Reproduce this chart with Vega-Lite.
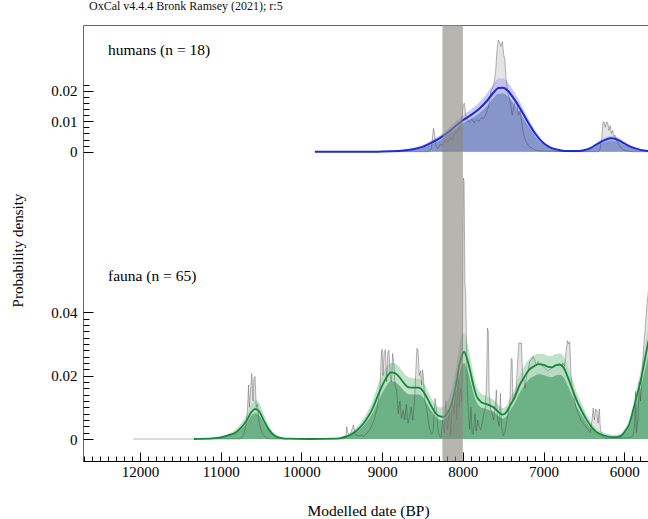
{
  "$schema": "https://vega.github.io/schema/vega-lite/v6.json",
  "autosize": {"type": "none"},
  "padding": {"left": 83, "top": 25, "right": 0, "bottom": 58},
  "width": 570,
  "height": 436,
  "title": {"text": "OxCal v4.4.4 Bronk Ramsey (2021); r:5", "anchor": "start", "frame": "group", "dx": 6, "offset": 3, "baseline": "alphabetic", "font": "Liberation Serif", "fontSize": 12, "fontWeight": "normal", "color": "#111"},
  "config": {
    "view": {"stroke": "#666", "strokeWidth": 1},
    "font": "Liberation Serif",
    "axis": {"grid": false, "labelFont": "Liberation Serif", "titleFont": "Liberation Serif", "labelColor": "black", "titleColor": "black", "tickColor": "black", "tickWidth": 1, "titleFontWeight": "normal", "labelFontSize": 15, "labelOverlap": false, "labelFlush": false},
    "axisY": {"domain": false, "labelPadding": 16}
  },
  "encoding": {
    "x": {"field": "y", "type": "quantitative", "scale": {"domain": [12707, 5644], "nice": false, "zero": false},
      "axis": {"values": [5700, 5800, 5900, 6000, 6100, 6200, 6300, 6400, 6500, 6600, 6700, 6800, 6900, 7000, 7100, 7200, 7300, 7400, 7500, 7600, 7700, 7800, 7900, 8000, 8100, 8200, 8300, 8400, 8500, 8600, 8700, 8800, 8900, 9000, 9100, 9200, 9300, 9400, 9500, 9600, 9700, 9800, 9900, 10000, 10100, 10200, 10300, 10400, 10500, 10600, 10700, 10800, 10900, 11000, 11100, 11200, 11300, 11400, 11500, 11600, 11700, 11800, 11900, 12000, 12100, 12200, 12300, 12400, 12500, 12600, 12700],
        "format": "d", "domainColor": "black", "domainWidth": 1, "labelOverlap": false, "tickCount": 200,
        "tickSize": {"condition": {"test": "datum.value % 1000 === 0", "value": -9}, "value": -5},
        "labelExpr": "datum.value % 1000 === 0 ? datum.label : ''",
        "labelPadding": 12,
        "title": "Modelled date (BP)", "titleFontSize": 15.5, "titleY": 49, "titleBaseline": "middle"}}
  },
  "datasets": {
    "hk": [
      {"y": 9833, "m": 0, "lo": 0, "hi": 0},
      {"y": 9400, "m": 0, "lo": 0, "hi": 0},
      {"y": 9000, "m": 0.00003, "lo": 0.00002, "hi": 0.00005},
      {"y": 8800, "m": 0.0002, "lo": 0.0001, "hi": 0.0003},
      {"y": 8700, "m": 0.0005, "lo": 0.0003, "hi": 0.0007},
      {"y": 8600, "m": 0.0009, "lo": 0.0006, "hi": 0.0013},
      {"y": 8500, "m": 0.0016, "lo": 0.0012, "hi": 0.0021},
      {"y": 8400, "m": 0.0028, "lo": 0.0023, "hi": 0.0035},
      {"y": 8300, "m": 0.0042, "lo": 0.0035, "hi": 0.0051},
      {"y": 8200, "m": 0.006, "lo": 0.0052, "hi": 0.0071},
      {"y": 8100, "m": 0.0082, "lo": 0.0073, "hi": 0.0096},
      {"y": 8000, "m": 0.0103, "lo": 0.0093, "hi": 0.0119},
      {"y": 7900, "m": 0.012, "lo": 0.0108, "hi": 0.0138},
      {"y": 7800, "m": 0.014, "lo": 0.0126, "hi": 0.0161},
      {"y": 7700, "m": 0.0167, "lo": 0.0151, "hi": 0.0192},
      {"y": 7620, "m": 0.0194, "lo": 0.0176, "hi": 0.0222},
      {"y": 7560, "m": 0.0209, "lo": 0.019, "hi": 0.024},
      {"y": 7500, "m": 0.021, "lo": 0.0191, "hi": 0.024},
      {"y": 7440, "m": 0.0199, "lo": 0.0181, "hi": 0.0226},
      {"y": 7370, "m": 0.0175, "lo": 0.0158, "hi": 0.0198},
      {"y": 7300, "m": 0.0146, "lo": 0.0131, "hi": 0.0166},
      {"y": 7200, "m": 0.01, "lo": 0.0088, "hi": 0.0115},
      {"y": 7100, "m": 0.0058, "lo": 0.005, "hi": 0.0068},
      {"y": 7000, "m": 0.0028, "lo": 0.0023, "hi": 0.0034},
      {"y": 6900, "m": 0.0012, "lo": 0.0009, "hi": 0.0016},
      {"y": 6800, "m": 0.0005, "lo": 0.0003, "hi": 0.0008},
      {"y": 6700, "m": 0.0002, "lo": 0.0001, "hi": 0.0004},
      {"y": 6600, "m": 0.0002, "lo": 0.0001, "hi": 0.0004},
      {"y": 6500, "m": 0.0005, "lo": 0.0003, "hi": 0.0007},
      {"y": 6420, "m": 0.0012, "lo": 0.0009, "hi": 0.0015},
      {"y": 6340, "m": 0.0024, "lo": 0.0019, "hi": 0.003},
      {"y": 6250, "m": 0.0037, "lo": 0.0031, "hi": 0.0045},
      {"y": 6170, "m": 0.0044, "lo": 0.0037, "hi": 0.0052},
      {"y": 6090, "m": 0.004, "lo": 0.0034, "hi": 0.0048},
      {"y": 6000, "m": 0.0027, "lo": 0.0022, "hi": 0.0033},
      {"y": 5900, "m": 0.0014, "lo": 0.0011, "hi": 0.0018},
      {"y": 5800, "m": 0.0006, "lo": 0.0004, "hi": 0.0008},
      {"y": 5700, "m": 0.0002, "lo": 0.0001, "hi": 0.0003}
    ],
    "hs": [
      {"y": 9840, "p": 0}, {"y": 8420, "p": 0}, {"y": 8390, "p": 0.001}, {"y": 8375, "p": 0.005}, {"y": 8364, "p": 0.0077}, {"y": 8350, "p": 0.006}, {"y": 8335, "p": 0.002}, {"y": 8310, "p": 0.001}, {"y": 8280, "p": 0.0025}, {"y": 8250, "p": 0.002}, {"y": 8220, "p": 0.004}, {"y": 8190, "p": 0.003}, {"y": 8160, "p": 0.0045}, {"y": 8130, "p": 0.004}, {"y": 8100, "p": 0.006}, {"y": 8060, "p": 0.007}, {"y": 8030, "p": 0.0085}, {"y": 8010, "p": 0.012}, {"y": 7995, "p": 0.0155}, {"y": 7980, "p": 0.0159}, {"y": 7965, "p": 0.012}, {"y": 7945, "p": 0.0105}, {"y": 7920, "p": 0.0098}, {"y": 7890, "p": 0.0108}, {"y": 7860, "p": 0.0095}, {"y": 7830, "p": 0.0105}, {"y": 7800, "p": 0.01}, {"y": 7770, "p": 0.0112}, {"y": 7740, "p": 0.0108}, {"y": 7710, "p": 0.0125}, {"y": 7680, "p": 0.015}, {"y": 7650, "p": 0.02}, {"y": 7620, "p": 0.0215}, {"y": 7595, "p": 0.026}, {"y": 7575, "p": 0.034}, {"y": 7560, "p": 0.0366}, {"y": 7545, "p": 0.036}, {"y": 7530, "p": 0.0345}, {"y": 7510, "p": 0.036}, {"y": 7495, "p": 0.032}, {"y": 7480, "p": 0.03}, {"y": 7465, "p": 0.024}, {"y": 7450, "p": 0.021}, {"y": 7430, "p": 0.018}, {"y": 7410, "p": 0.016}, {"y": 7390, "p": 0.012}, {"y": 7370, "p": 0.0145}, {"y": 7350, "p": 0.0165}, {"y": 7330, "p": 0.016}, {"y": 7310, "p": 0.012}, {"y": 7290, "p": 0.0135}, {"y": 7270, "p": 0.0095}, {"y": 7250, "p": 0.006}, {"y": 7230, "p": 0.004}, {"y": 7200, "p": 0.0025}, {"y": 7170, "p": 0.0015}, {"y": 7130, "p": 0.001}, {"y": 7100, "p": 0.0005}, {"y": 7050, "p": 0.0003}, {"y": 7000, "p": 0.0002}, {"y": 6600, "p": 0}, {"y": 6320, "p": 0}, {"y": 6300, "p": 0.001}, {"y": 6280, "p": 0.004}, {"y": 6265, "p": 0.0095}, {"y": 6250, "p": 0.0098}, {"y": 6235, "p": 0.008}, {"y": 6220, "p": 0.0097}, {"y": 6205, "p": 0.0095}, {"y": 6190, "p": 0.007}, {"y": 6175, "p": 0.0085}, {"y": 6160, "p": 0.006}, {"y": 6145, "p": 0.007}, {"y": 6130, "p": 0.005}, {"y": 6115, "p": 0.0055}, {"y": 6100, "p": 0.004}, {"y": 6080, "p": 0.003}, {"y": 6050, "p": 0.0015}, {"y": 6020, "p": 0.0008}, {"y": 5980, "p": 0.0003}, {"y": 5900, "p": 0}, {"y": 5700, "p": 0}
    ],
    "fk": [
      {"y": 11333, "m": 0, "lo": 0, "hi": 0},
      {"y": 11100, "m": 0.0002, "lo": 0.0001, "hi": 0.0004},
      {"y": 11000, "m": 0.0005, "lo": 0.0004, "hi": 0.0008},
      {"y": 10900, "m": 0.0012, "lo": 0.001, "hi": 0.0017},
      {"y": 10820, "m": 0.002, "lo": 0.0017, "hi": 0.0029},
      {"y": 10750, "m": 0.0035, "lo": 0.003, "hi": 0.0048},
      {"y": 10680, "m": 0.0058, "lo": 0.005, "hi": 0.0076},
      {"y": 10620, "m": 0.0085, "lo": 0.0073, "hi": 0.011},
      {"y": 10570, "m": 0.0095, "lo": 0.0082, "hi": 0.0125},
      {"y": 10520, "m": 0.0085, "lo": 0.0073, "hi": 0.0112},
      {"y": 10460, "m": 0.0055, "lo": 0.0047, "hi": 0.0073},
      {"y": 10400, "m": 0.0028, "lo": 0.0024, "hi": 0.004},
      {"y": 10330, "m": 0.001, "lo": 0.0008, "hi": 0.0016},
      {"y": 10250, "m": 0.0003, "lo": 0.0002, "hi": 0.0006},
      {"y": 10150, "m": 0.0001, "lo": 0.0001, "hi": 0.0002},
      {"y": 9900, "m": 0, "lo": 0, "hi": 0.0001},
      {"y": 9600, "m": 0.0001, "lo": 0.0001, "hi": 0.0002},
      {"y": 9520, "m": 0.0003, "lo": 0.0002, "hi": 0.0005},
      {"y": 9440, "m": 0.0008, "lo": 0.0006, "hi": 0.0012},
      {"y": 9360, "m": 0.0018, "lo": 0.0015, "hi": 0.0026},
      {"y": 9280, "m": 0.0035, "lo": 0.003, "hi": 0.0047},
      {"y": 9200, "m": 0.006, "lo": 0.0051, "hi": 0.0078},
      {"y": 9120, "m": 0.0095, "lo": 0.0081, "hi": 0.012},
      {"y": 9040, "m": 0.0145, "lo": 0.0124, "hi": 0.0178},
      {"y": 8960, "m": 0.0188, "lo": 0.0162, "hi": 0.0222},
      {"y": 8890, "m": 0.021, "lo": 0.0182, "hi": 0.024},
      {"y": 8840, "m": 0.0208, "lo": 0.018, "hi": 0.0238},
      {"y": 8780, "m": 0.0193, "lo": 0.0167, "hi": 0.0225},
      {"y": 8720, "m": 0.0173, "lo": 0.015, "hi": 0.0205},
      {"y": 8670, "m": 0.0163, "lo": 0.0141, "hi": 0.0195},
      {"y": 8610, "m": 0.0162, "lo": 0.014, "hi": 0.0192},
      {"y": 8550, "m": 0.0162, "lo": 0.014, "hi": 0.019},
      {"y": 8490, "m": 0.015, "lo": 0.013, "hi": 0.0178},
      {"y": 8440, "m": 0.0128, "lo": 0.011, "hi": 0.0155},
      {"y": 8400, "m": 0.0108, "lo": 0.0093, "hi": 0.0135},
      {"y": 8340, "m": 0.0082, "lo": 0.007, "hi": 0.0108},
      {"y": 8290, "m": 0.0072, "lo": 0.0061, "hi": 0.01},
      {"y": 8240, "m": 0.007, "lo": 0.0059, "hi": 0.0102},
      {"y": 8190, "m": 0.0082, "lo": 0.007, "hi": 0.0118},
      {"y": 8140, "m": 0.0112, "lo": 0.0096, "hi": 0.0155},
      {"y": 8090, "m": 0.0165, "lo": 0.0142, "hi": 0.0215},
      {"y": 8050, "m": 0.0225, "lo": 0.0195, "hi": 0.0285},
      {"y": 8010, "m": 0.0265, "lo": 0.023, "hi": 0.033},
      {"y": 7985, "m": 0.0275, "lo": 0.024, "hi": 0.0335},
      {"y": 7950, "m": 0.0255, "lo": 0.0222, "hi": 0.031},
      {"y": 7910, "m": 0.0215, "lo": 0.0187, "hi": 0.0262},
      {"y": 7870, "m": 0.017, "lo": 0.0147, "hi": 0.0208},
      {"y": 7830, "m": 0.0135, "lo": 0.0116, "hi": 0.0166},
      {"y": 7780, "m": 0.0118, "lo": 0.0101, "hi": 0.0145},
      {"y": 7730, "m": 0.0112, "lo": 0.0096, "hi": 0.0138},
      {"y": 7670, "m": 0.0106, "lo": 0.0091, "hi": 0.013},
      {"y": 7620, "m": 0.01, "lo": 0.0086, "hi": 0.0124},
      {"y": 7570, "m": 0.0088, "lo": 0.0075, "hi": 0.011},
      {"y": 7510, "m": 0.0077, "lo": 0.0065, "hi": 0.0098},
      {"y": 7460, "m": 0.0085, "lo": 0.0072, "hi": 0.0106},
      {"y": 7410, "m": 0.0108, "lo": 0.0092, "hi": 0.0132},
      {"y": 7360, "m": 0.013, "lo": 0.0111, "hi": 0.0156},
      {"y": 7300, "m": 0.0168, "lo": 0.0144, "hi": 0.0198},
      {"y": 7240, "m": 0.0195, "lo": 0.0168, "hi": 0.0228},
      {"y": 7180, "m": 0.0218, "lo": 0.0188, "hi": 0.0252},
      {"y": 7120, "m": 0.0229, "lo": 0.0198, "hi": 0.0264},
      {"y": 7060, "m": 0.0236, "lo": 0.0204, "hi": 0.027},
      {"y": 7000, "m": 0.0234, "lo": 0.0202, "hi": 0.0268},
      {"y": 6950, "m": 0.0228, "lo": 0.0197, "hi": 0.0263},
      {"y": 6900, "m": 0.0226, "lo": 0.0195, "hi": 0.0262},
      {"y": 6850, "m": 0.0232, "lo": 0.02, "hi": 0.0268},
      {"y": 6800, "m": 0.0235, "lo": 0.0203, "hi": 0.027},
      {"y": 6750, "m": 0.0225, "lo": 0.0194, "hi": 0.026},
      {"y": 6700, "m": 0.0195, "lo": 0.0168, "hi": 0.0228},
      {"y": 6640, "m": 0.0155, "lo": 0.0133, "hi": 0.0185},
      {"y": 6590, "m": 0.0122, "lo": 0.0104, "hi": 0.0148},
      {"y": 6530, "m": 0.009, "lo": 0.0077, "hi": 0.0112},
      {"y": 6460, "m": 0.0058, "lo": 0.0049, "hi": 0.0075},
      {"y": 6390, "m": 0.0033, "lo": 0.0028, "hi": 0.0046},
      {"y": 6320, "m": 0.0018, "lo": 0.0015, "hi": 0.0028},
      {"y": 6250, "m": 0.0011, "lo": 0.0009, "hi": 0.0019},
      {"y": 6180, "m": 0.0007, "lo": 0.0005, "hi": 0.0014},
      {"y": 6100, "m": 0.0006, "lo": 0.0004, "hi": 0.0013},
      {"y": 6040, "m": 0.001, "lo": 0.0008, "hi": 0.0018},
      {"y": 5990, "m": 0.0025, "lo": 0.0021, "hi": 0.0035},
      {"y": 5940, "m": 0.0045, "lo": 0.0038, "hi": 0.006},
      {"y": 5890, "m": 0.009, "lo": 0.0077, "hi": 0.011},
      {"y": 5840, "m": 0.014, "lo": 0.012, "hi": 0.0168},
      {"y": 5800, "m": 0.018, "lo": 0.0155, "hi": 0.0212},
      {"y": 5760, "m": 0.023, "lo": 0.0198, "hi": 0.0268},
      {"y": 5730, "m": 0.027, "lo": 0.0233, "hi": 0.0312},
      {"y": 5700, "m": 0.031, "lo": 0.0268, "hi": 0.0355}
    ],
    "fs": [
      {"y": 12083, "p": 0}, {"y": 10760, "p": 0}, {"y": 10720, "p": 0.001}, {"y": 10690, "p": 0.004}, {"y": 10670, "p": 0.009}, {"y": 10655, "p": 0.017}, {"y": 10645, "p": 0.01}, {"y": 10630, "p": 0.016}, {"y": 10615, "p": 0.0207}, {"y": 10600, "p": 0.012}, {"y": 10590, "p": 0.019}, {"y": 10575, "p": 0.0197}, {"y": 10560, "p": 0.01}, {"y": 10545, "p": 0.011}, {"y": 10530, "p": 0.0065}, {"y": 10510, "p": 0.0035}, {"y": 10480, "p": 0.0015}, {"y": 10440, "p": 0.0005}, {"y": 10400, "p": 0},
      {"y": 9480, "p": 0}, {"y": 9450, "p": 0.0005}, {"y": 9440, "p": 0.0039}, {"y": 9425, "p": 0.002}, {"y": 9400, "p": 0.0012}, {"y": 9375, "p": 0.003}, {"y": 9355, "p": 0.0045}, {"y": 9335, "p": 0.0015}, {"y": 9300, "p": 0.001}, {"y": 9260, "p": 0.0012}, {"y": 9230, "p": 0.0008}, {"y": 9200, "p": 0.0015}, {"y": 9150, "p": 0.003}, {"y": 9100, "p": 0.006}, {"y": 9060, "p": 0.01}, {"y": 9030, "p": 0.015}, {"y": 9010, "p": 0.027}, {"y": 9000, "p": 0.0283}, {"y": 8990, "p": 0.02}, {"y": 8975, "p": 0.0275}, {"y": 8960, "p": 0.0282}, {"y": 8945, "p": 0.018}, {"y": 8930, "p": 0.0275}, {"y": 8915, "p": 0.028}, {"y": 8900, "p": 0.02}, {"y": 8885, "p": 0.018}, {"y": 8870, "p": 0.027}, {"y": 8855, "p": 0.024}, {"y": 8840, "p": 0.017}, {"y": 8820, "p": 0.015}, {"y": 8800, "p": 0.008}, {"y": 8780, "p": 0.012}, {"y": 8760, "p": 0.0065}, {"y": 8740, "p": 0.009}, {"y": 8720, "p": 0.006}, {"y": 8700, "p": 0.011}, {"y": 8680, "p": 0.005}, {"y": 8660, "p": 0.007}, {"y": 8640, "p": 0.01}, {"y": 8620, "p": 0.006}, {"y": 8600, "p": 0.012}, {"y": 8585, "p": 0.02}, {"y": 8570, "p": 0.0286}, {"y": 8555, "p": 0.028}, {"y": 8540, "p": 0.02}, {"y": 8525, "p": 0.0215}, {"y": 8510, "p": 0.017}, {"y": 8500, "p": 0.0218}, {"y": 8490, "p": 0.02}, {"y": 8470, "p": 0.012}, {"y": 8450, "p": 0.01}, {"y": 8430, "p": 0.006}, {"y": 8410, "p": 0.003}, {"y": 8390, "p": 0.0015}, {"y": 8370, "p": 0.002}, {"y": 8345, "p": 0.0128}, {"y": 8330, "p": 0.01}, {"y": 8310, "p": 0.003}, {"y": 8290, "p": 0.001}, {"y": 8270, "p": 0.0005}, {"y": 8250, "p": 0.006}, {"y": 8230, "p": 0.002}, {"y": 8210, "p": 0.012}, {"y": 8190, "p": 0.003}, {"y": 8170, "p": 0.009}, {"y": 8150, "p": 0.001}, {"y": 8130, "p": 0.012}, {"y": 8110, "p": 0.008}, {"y": 8090, "p": 0.015}, {"y": 8075, "p": 0.006}, {"y": 8060, "p": 0.021}, {"y": 8045, "p": 0.01}, {"y": 8030, "p": 0.016}, {"y": 8015, "p": 0.012}, {"y": 8005, "p": 0.03}, {"y": 7995, "p": 0.0823}, {"y": 7985, "p": 0.0815}, {"y": 7975, "p": 0.049}, {"y": 7965, "p": 0.046}, {"y": 7955, "p": 0.03}, {"y": 7945, "p": 0.015}, {"y": 7930, "p": 0.008}, {"y": 7915, "p": 0.003}, {"y": 7900, "p": 0.01}, {"y": 7885, "p": 0.002}, {"y": 7870, "p": 0.0015}, {"y": 7850, "p": 0.008}, {"y": 7835, "p": 0.0025}, {"y": 7815, "p": 0.006}, {"y": 7800, "p": 0.004}, {"y": 7780, "p": 0.003}, {"y": 7760, "p": 0.005}, {"y": 7740, "p": 0.008}, {"y": 7720, "p": 0.01}, {"y": 7705, "p": 0.02}, {"y": 7695, "p": 0.035}, {"y": 7685, "p": 0.034}, {"y": 7675, "p": 0.015}, {"y": 7660, "p": 0.01}, {"y": 7640, "p": 0.008}, {"y": 7620, "p": 0.006}, {"y": 7600, "p": 0.01}, {"y": 7585, "p": 0.0155}, {"y": 7570, "p": 0.006}, {"y": 7550, "p": 0.004}, {"y": 7535, "p": 0.0144}, {"y": 7520, "p": 0.004}, {"y": 7500, "p": 0.001}, {"y": 7480, "p": 0.002}, {"y": 7460, "p": 0.005}, {"y": 7440, "p": 0.008}, {"y": 7420, "p": 0.01}, {"y": 7400, "p": 0.0254}, {"y": 7390, "p": 0.025}, {"y": 7380, "p": 0.012}, {"y": 7360, "p": 0.014}, {"y": 7340, "p": 0.015}, {"y": 7320, "p": 0.025}, {"y": 7305, "p": 0.0304}, {"y": 7290, "p": 0.03}, {"y": 7275, "p": 0.0304}, {"y": 7260, "p": 0.02}, {"y": 7245, "p": 0.019}, {"y": 7230, "p": 0.016}, {"y": 7210, "p": 0.02}, {"y": 7190, "p": 0.022}, {"y": 7170, "p": 0.0245}, {"y": 7150, "p": 0.025}, {"y": 7130, "p": 0.026}, {"y": 7110, "p": 0.025}, {"y": 7090, "p": 0.023}, {"y": 7070, "p": 0.0245}, {"y": 7050, "p": 0.024}, {"y": 7030, "p": 0.0235}, {"y": 7010, "p": 0.023}, {"y": 6990, "p": 0.0225}, {"y": 6970, "p": 0.022}, {"y": 6950, "p": 0.0215}, {"y": 6920, "p": 0.022}, {"y": 6890, "p": 0.0225}, {"y": 6860, "p": 0.023}, {"y": 6830, "p": 0.0235}, {"y": 6800, "p": 0.0235}, {"y": 6780, "p": 0.023}, {"y": 6760, "p": 0.024}, {"y": 6740, "p": 0.023}, {"y": 6720, "p": 0.028}, {"y": 6705, "p": 0.031}, {"y": 6690, "p": 0.03}, {"y": 6675, "p": 0.0307}, {"y": 6660, "p": 0.02}, {"y": 6640, "p": 0.015}, {"y": 6620, "p": 0.013}, {"y": 6600, "p": 0.01}, {"y": 6570, "p": 0.008}, {"y": 6540, "p": 0.006}, {"y": 6510, "p": 0.005}, {"y": 6480, "p": 0.004}, {"y": 6450, "p": 0.003}, {"y": 6420, "p": 0.002}, {"y": 6400, "p": 0.006}, {"y": 6385, "p": 0.0097}, {"y": 6370, "p": 0.006}, {"y": 6355, "p": 0.0095}, {"y": 6340, "p": 0.009}, {"y": 6325, "p": 0.005}, {"y": 6310, "p": 0.0095}, {"y": 6295, "p": 0.003}, {"y": 6270, "p": 0.001}, {"y": 6240, "p": 0.0003}, {"y": 6000, "p": 0.0003}, {"y": 5920, "p": 0.0005}, {"y": 5890, "p": 0.001}, {"y": 5870, "p": 0.005}, {"y": 5860, "p": 0.015}, {"y": 5850, "p": 0.002}, {"y": 5830, "p": 0.006}, {"y": 5815, "p": 0.018}, {"y": 5800, "p": 0.012}, {"y": 5780, "p": 0.02}, {"y": 5760, "p": 0.029}, {"y": 5740, "p": 0.035}, {"y": 5720, "p": 0.042}, {"y": 5700, "p": 0.047}
    ]
  },
  "layer": [
    {
      "layer": [
        {
          "data": {"name": "hs"},
          "mark": {"type": "area", "color": "#e4e4e4", "clip": true},
          "encoding": {
            "y": {"field": "p", "type": "quantitative", "scale": {"domain": [-0.1014, 0.04154], "nice": false, "zero": false},
              "axis": {"orient": "left", "values": [0, 0.002, 0.004, 0.006, 0.008, 0.01, 0.012, 0.014, 0.016, 0.018, 0.02, 0.022], "tickCount": 200, "title": "", "labelOverlap": false,
                "tickSize": {"condition": {"test": "abs(datum.value*100 - round(datum.value*100)) < 0.01", "value": -10}, "value": -6},
                "labelFontSize": {"condition": {"test": "abs(datum.value*100 - round(datum.value*100)) < 0.01", "value": 15}, "value": 0},
                "labelExpr": "abs(datum.value*100 - round(datum.value*100)) < 0.01 ? (datum.value == 0 ? '0' : format(datum.value, '.2f')) : ''"}},
            "y2": {"datum": 0}
          }
        },
        {
          "data": {"name": "hk"},
          "mark": {"type": "area", "color": "#b2b5f2", "opacity": 0.7, "interpolate": "monotone", "clip": true},
          "encoding": {
            "y": {"field": "hi", "type": "quantitative", "scale": {"domain": [-0.1014, 0.04154], "nice": false, "zero": false}},
            "y2": {"datum": 0}
          }
        },
        {
          "data": {"name": "hk"},
          "mark": {"type": "area", "color": "#7b8ec3", "opacity": 0.85, "interpolate": "monotone", "clip": true},
          "encoding": {
            "y": {"field": "lo", "type": "quantitative", "scale": {"domain": [-0.1014, 0.04154], "nice": false, "zero": false}},
            "y2": {"datum": 0}
          }
        },
        {
          "data": {"name": "hs"},
          "mark": {"type": "line", "color": "#333", "strokeWidth": 0.6, "opacity": 0.6, "clip": true},
          "encoding": {
            "y": {"field": "p", "type": "quantitative", "scale": {"domain": [-0.1014, 0.04154], "nice": false, "zero": false}}
          }
        },
        {
          "data": {"name": "hk"},
          "mark": {"type": "line", "color": "#1c2bd3", "strokeWidth": 2, "interpolate": "monotone", "clip": true},
          "encoding": {
            "y": {"field": "m", "type": "quantitative", "scale": {"domain": [-0.1014, 0.04154], "nice": false, "zero": false}}
          }
        },
        {
          "data": {"values": [{"t": "humans (n = 18)", "y": 12397, "p": 0.0333}]},
          "mark": {"type": "text", "align": "left", "baseline": "middle", "font": "Liberation Serif", "fontSize": 15.5, "color": "black"},
          "encoding": {
            "y": {"field": "p", "type": "quantitative", "scale": {"domain": [-0.1014, 0.04154], "nice": false, "zero": false}},
            "text": {"field": "t"}
          }
        }
      ]
    },
    {
      "layer": [
        {
          "data": {"name": "fs"},
          "mark": {"type": "area", "color": "#e4e4e4", "clip": true},
          "encoding": {
            "y": {"field": "p", "type": "quantitative", "scale": {"domain": [-0.00694, 0.1306], "nice": false, "zero": false},
              "axis": {"orient": "left", "values": [0, 0.002, 0.004, 0.006, 0.008, 0.01, 0.012, 0.014, 0.016, 0.018, 0.02, 0.022, 0.024, 0.026, 0.028, 0.03, 0.032, 0.034, 0.036, 0.038, 0.04], "tickCount": 200, "labelOverlap": false,
                "title": "Probability density", "titleFontSize": 15, "titleX": -66, "titleY": 225, "titleAngle": 270, "titleAlign": "center", "titleBaseline": "middle",
                "tickSize": {"condition": {"test": "abs(datum.value*50 - round(datum.value*50)) < 0.01", "value": -10}, "value": -6},
                "labelFontSize": {"condition": {"test": "abs(datum.value*50 - round(datum.value*50)) < 0.01", "value": 15}, "value": 0},
                "labelExpr": "abs(datum.value*50 - round(datum.value*50)) < 0.01 ? (datum.value == 0 ? '0' : format(datum.value, '.2f')) : ''"}},
            "y2": {"datum": 0}
          }
        },
        {
          "data": {"name": "fk"},
          "mark": {"type": "area", "color": "#a6d6b4", "opacity": 0.7, "interpolate": "monotone", "clip": true},
          "encoding": {
            "y": {"field": "hi", "type": "quantitative", "scale": {"domain": [-0.00694, 0.1306], "nice": false, "zero": false}},
            "y2": {"datum": 0}
          }
        },
        {
          "data": {"name": "fk"},
          "mark": {"type": "area", "color": "#5fa97c", "opacity": 0.85, "interpolate": "monotone", "clip": true},
          "encoding": {
            "y": {"field": "lo", "type": "quantitative", "scale": {"domain": [-0.00694, 0.1306], "nice": false, "zero": false}},
            "y2": {"datum": 0}
          }
        },
        {
          "data": {"name": "fs"},
          "mark": {"type": "line", "color": "#333", "strokeWidth": 0.6, "opacity": 0.6, "clip": true},
          "encoding": {
            "y": {"field": "p", "type": "quantitative", "scale": {"domain": [-0.00694, 0.1306], "nice": false, "zero": false}}
          }
        },
        {
          "data": {"name": "fk"},
          "mark": {"type": "line", "color": "#13873a", "strokeWidth": 1.8, "interpolate": "monotone", "clip": true},
          "encoding": {
            "y": {"field": "m", "type": "quantitative", "scale": {"domain": [-0.00694, 0.1306], "nice": false, "zero": false}}
          }
        },
        {
          "data": {"values": [{"t": "fauna (n = 65)", "y": 12397, "p": 0.0514}]},
          "mark": {"type": "text", "align": "left", "baseline": "middle", "font": "Liberation Serif", "fontSize": 15.5, "color": "black"},
          "encoding": {
            "y": {"field": "p", "type": "quantitative", "scale": {"domain": [-0.00694, 0.1306], "nice": false, "zero": false}},
            "text": {"field": "t"}
          }
        }
      ]
    },
    {
      "data": {"values": [{"y": 8253, "b": 8000}]},
      "mark": {"type": "rect", "color": "#8a8880", "opacity": 0.62},
      "encoding": {
        "x2": {"field": "b"}
      }
    }
  ],
  "resolve": {"scale": {"y": "independent"}, "axis": {"y": "independent"}}
}
